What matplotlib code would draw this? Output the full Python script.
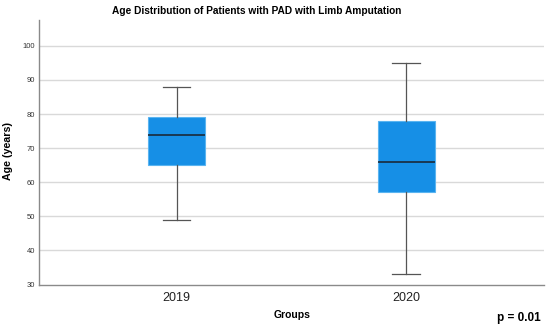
import matplotlib
matplotlib.use("Agg")
import matplotlib.pyplot as plt

groups = ["2019", "2020"]
whisker_low = [49, 33]
q1 = [65, 57]
median = [74, 66]
q3 = [79, 78]
whisker_high = [88, 95]
yticks = [30, 40, 50, 60, 70, 80, 90, 100]

plt.rcParams['font.family'] = ['Liberation Sans', 'DejaVu Sans']
fig = plt.figure(figsize=(5.5, 3.26), dpi=100)
ax = fig.add_axes([0.0709, 0.127, 0.918, 0.812])

stats = []
for i, g in enumerate(groups):
    stats.append(dict(label=g, whislo=whisker_low[i], q1=q1[i], med=median[i],
                      q3=q3[i], whishi=whisker_high[i], fliers=[]))

ax.bxp(stats, positions=range(len(groups)), widths=0.25, patch_artist=True,
       boxprops=dict(facecolor="#168fe6", edgecolor="#5ab4f0", linewidth=0.8),
       medianprops=dict(color="#1a2a3a", linewidth=1.2),
       whiskerprops=dict(color="#555555", linewidth=0.9),
       capprops=dict(color="#555555", linewidth=0.9),
       capwidths=0.12, zorder=3)

ax.set_xlim(-0.6, 1.6)
ax.set_ylim(30, 107.6)
ax.set_yticks(yticks)
for y in yticks[1:]:
    ax.axhline(y, color="#d9d9d9", linewidth=1.0, zorder=1)

for s in ["top", "right"]:
    ax.spines[s].set_visible(False)
for s in ["left", "bottom"]:
    ax.spines[s].set_color("#8a8a8a")
    ax.spines[s].set_linewidth(1.0)

ax.tick_params(axis="y", length=0, labelsize=5.5, colors="#333333", pad=3)
ax.tick_params(axis="x", length=0, labelsize=9, colors="#222222", pad=5)

fig.text(8/550, 1 - 151/326, "Age (years)", rotation=90, ha="center", va="center",
         fontsize=7.7, fontweight="bold")
fig.text(292/550, 1 - 315/326, "Groups", ha="center", va="center",
         fontsize=7.5, fontweight="bold")
fig.text(257/550, 1 - 11/326, "Age Distribution of Patients with PAD with Limb Amputation",
         ha="center", va="center", fontsize=7.3, fontweight="bold")
fig.text(541/550, 1 - 318/326, "p = 0.01", ha="right", va="center",
         fontsize=8.5, fontweight="bold")

fig.savefig("out.png", dpi=100)
